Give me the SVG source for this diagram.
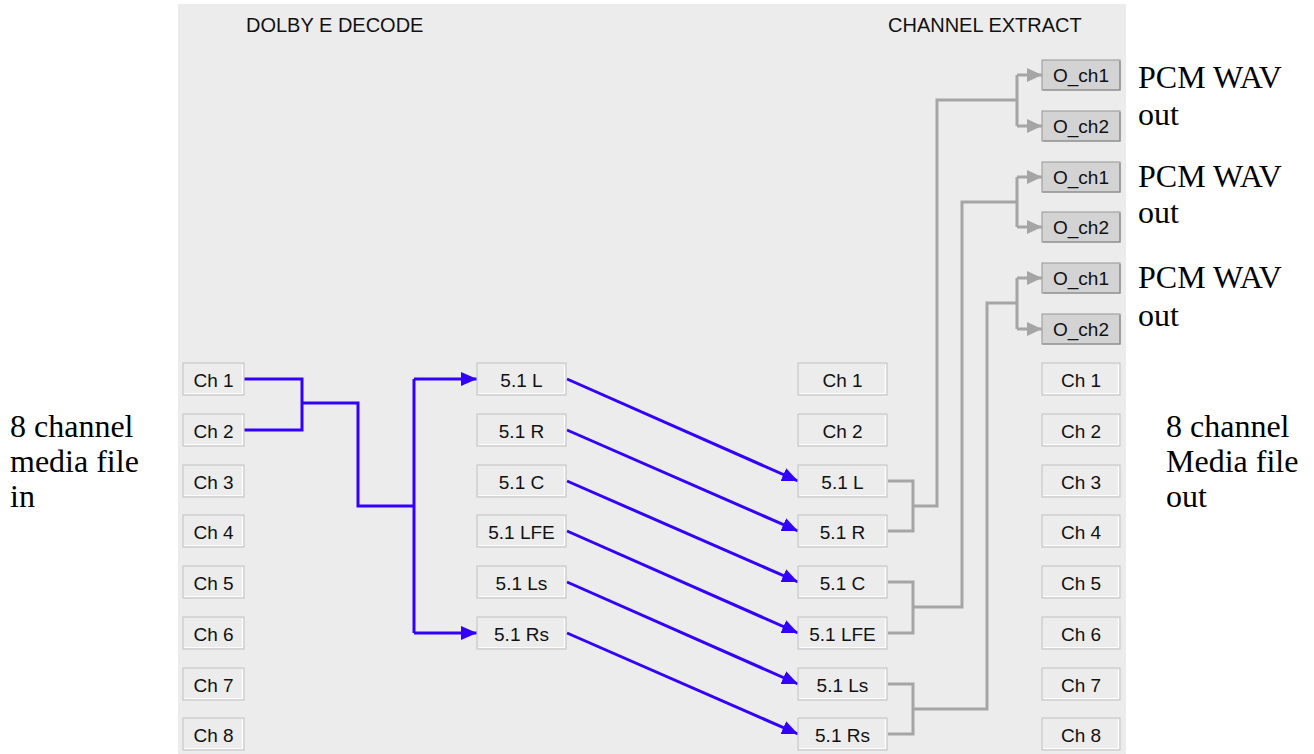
<svg xmlns="http://www.w3.org/2000/svg" width="1314" height="754" viewBox="0 0 1314 754">
<style>
.btn{fill:#ececec;stroke:#c9c9c9;stroke-width:1.2}
.hl{fill:none;stroke:#fdfdfd;stroke-width:1.2}
.obtn{fill:#d3d3d3;stroke:#a2a2a2;stroke-width:1.2}
.ohl{fill:none;stroke:#8c8c8c;stroke-width:1.2}
.bt{font-family:"Liberation Sans",Arial,sans-serif;font-size:19px;fill:#111;text-anchor:middle}
.hd{font-family:"Liberation Sans",Arial,sans-serif;font-size:20px;fill:#111}
.lbl{font-family:"Liberation Serif","Times New Roman",serif;font-size:32px;fill:#000}
.blue{fill:none;stroke:#3300ff;stroke-width:3}
.gray{fill:none;stroke:#a5a5a5;stroke-width:3}
</style>
<defs>
<marker id="ab" markerUnits="userSpaceOnUse" markerWidth="16" markerHeight="16" viewBox="0 0 16 16" refX="16" refY="8" orient="auto"><path d="M0,1 L16,8 L0,15 Z" fill="#3300ff"/></marker>
<marker id="ag" markerUnits="userSpaceOnUse" markerWidth="15" markerHeight="16" viewBox="0 0 15 16" refX="15" refY="8" orient="auto"><path d="M0,1 L15,8 L0,15 Z" fill="#a5a5a5"/></marker>
</defs>
<rect x="0" y="0" width="1314" height="754" fill="#ffffff"/>
<rect x="178" y="4" width="948" height="750" fill="#ececec"/>
<text class="hd" x="246" y="32">DOLBY E DECODE</text>
<text class="hd" x="888" y="32">CHANNEL EXTRACT</text>

<g id="connectors">
<path class="blue" d="M244,379 H302 V430 H244"/>
<path class="blue" d="M302,403 H358 V506 H414"/>
<path class="blue" d="M414,379 V633"/>
<path class="blue" d="M414,379 H477" marker-end="url(#ab)"/>
<path class="blue" d="M414,633 H477" marker-end="url(#ab)"/>
<path class="blue" d="M567,379 L798,481" marker-end="url(#ab)"/>
<path class="blue" d="M567,430 L798,531" marker-end="url(#ab)"/>
<path class="blue" d="M567,481 L798,582" marker-end="url(#ab)"/>
<path class="blue" d="M567,531 L798,633" marker-end="url(#ab)"/>
<path class="blue" d="M567,582 L798,684" marker-end="url(#ab)"/>
<path class="blue" d="M567,633 L798,734" marker-end="url(#ab)"/>
<path class="gray" d="M888,481 H913 V531 H888 M913,506 H937 V100 H1017"/>
<path class="gray" d="M1017,75 V126"/>
<path class="gray" d="M1017,75 H1042" marker-end="url(#ag)"/>
<path class="gray" d="M1017,126 H1042" marker-end="url(#ag)"/>
<path class="gray" d="M888,582 H913 V633 H888 M913,607 H962 V202 H1017"/>
<path class="gray" d="M1017,177 V227"/>
<path class="gray" d="M1017,177 H1042" marker-end="url(#ag)"/>
<path class="gray" d="M1017,227 H1042" marker-end="url(#ag)"/>
<path class="gray" d="M888,684 H913 V734 H888 M913,709 H987 V303 H1017"/>
<path class="gray" d="M1017,278 V329"/>
<path class="gray" d="M1017,278 H1042" marker-end="url(#ag)"/>
<path class="gray" d="M1017,329 H1042" marker-end="url(#ag)"/>
</g>

<!-- Column A -->
<g id="a1"><rect class="btn" x="183" y="363" width="61" height="32"/><path class="hl" d="M184.5,393.5 H242.5 V364.5"/><text class="bt" x="213.5" y="386.5">Ch 1</text></g>
<g id="a2"><rect class="btn" x="183" y="414" width="61" height="32"/><path class="hl" d="M184.5,444.5 H242.5 V415.5"/><text class="bt" x="213.5" y="437.5">Ch 2</text></g>
<g id="a3"><rect class="btn" x="183" y="465" width="61" height="32"/><path class="hl" d="M184.5,495.5 H242.5 V466.5"/><text class="bt" x="213.5" y="488.5">Ch 3</text></g>
<g id="a4"><rect class="btn" x="183" y="515" width="61" height="32"/><path class="hl" d="M184.5,545.5 H242.5 V516.5"/><text class="bt" x="213.5" y="538.5">Ch 4</text></g>
<g id="a5"><rect class="btn" x="183" y="566" width="61" height="32"/><path class="hl" d="M184.5,596.5 H242.5 V567.5"/><text class="bt" x="213.5" y="589.5">Ch 5</text></g>
<g id="a6"><rect class="btn" x="183" y="617" width="61" height="32"/><path class="hl" d="M184.5,647.5 H242.5 V618.5"/><text class="bt" x="213.5" y="640.5">Ch 6</text></g>
<g id="a7"><rect class="btn" x="183" y="668" width="61" height="32"/><path class="hl" d="M184.5,698.5 H242.5 V669.5"/><text class="bt" x="213.5" y="691.5">Ch 7</text></g>
<g id="a8"><rect class="btn" x="183" y="718" width="61" height="32"/><path class="hl" d="M184.5,748.5 H242.5 V719.5"/><text class="bt" x="213.5" y="741.5">Ch 8</text></g>

<!-- Column B -->
<g id="b1"><rect class="btn" x="477" y="363" width="89" height="32"/><path class="hl" d="M478.5,393.5 H564.5 V364.5"/><text class="bt" x="521.5" y="386.5">5.1 L</text></g>
<g id="b2"><rect class="btn" x="477" y="414" width="89" height="32"/><path class="hl" d="M478.5,444.5 H564.5 V415.5"/><text class="bt" x="521.5" y="437.5">5.1 R</text></g>
<g id="b3"><rect class="btn" x="477" y="465" width="89" height="32"/><path class="hl" d="M478.5,495.5 H564.5 V466.5"/><text class="bt" x="521.5" y="488.5">5.1 C</text></g>
<g id="b4"><rect class="btn" x="477" y="515" width="89" height="32"/><path class="hl" d="M478.5,545.5 H564.5 V516.5"/><text class="bt" x="521.5" y="538.5">5.1 LFE</text></g>
<g id="b5"><rect class="btn" x="477" y="566" width="89" height="32"/><path class="hl" d="M478.5,596.5 H564.5 V567.5"/><text class="bt" x="521.5" y="589.5">5.1 Ls</text></g>
<g id="b6"><rect class="btn" x="477" y="617" width="89" height="32"/><path class="hl" d="M478.5,647.5 H564.5 V618.5"/><text class="bt" x="521.5" y="640.5">5.1 Rs</text></g>

<!-- Column C -->
<g id="c1"><rect class="btn" x="798" y="363" width="89" height="32"/><path class="hl" d="M799.5,393.5 H885.5 V364.5"/><text class="bt" x="842.5" y="386.5">Ch 1</text></g>
<g id="c2"><rect class="btn" x="798" y="414" width="89" height="32"/><path class="hl" d="M799.5,444.5 H885.5 V415.5"/><text class="bt" x="842.5" y="437.5">Ch 2</text></g>
<g id="c3"><rect class="btn" x="798" y="465" width="89" height="32"/><path class="hl" d="M799.5,495.5 H885.5 V466.5"/><text class="bt" x="842.5" y="488.5">5.1 L</text></g>
<g id="c4"><rect class="btn" x="798" y="515" width="89" height="32"/><path class="hl" d="M799.5,545.5 H885.5 V516.5"/><text class="bt" x="842.5" y="538.5">5.1 R</text></g>
<g id="c5"><rect class="btn" x="798" y="566" width="89" height="32"/><path class="hl" d="M799.5,596.5 H885.5 V567.5"/><text class="bt" x="842.5" y="589.5">5.1 C</text></g>
<g id="c6"><rect class="btn" x="798" y="617" width="89" height="32"/><path class="hl" d="M799.5,647.5 H885.5 V618.5"/><text class="bt" x="842.5" y="640.5">5.1 LFE</text></g>
<g id="c7"><rect class="btn" x="798" y="668" width="89" height="32"/><path class="hl" d="M799.5,698.5 H885.5 V669.5"/><text class="bt" x="842.5" y="691.5">5.1 Ls</text></g>
<g id="c8"><rect class="btn" x="798" y="718" width="89" height="32"/><path class="hl" d="M799.5,748.5 H885.5 V719.5"/><text class="bt" x="842.5" y="741.5">5.1 Rs</text></g>

<!-- Column D -->
<g id="d1"><rect class="btn" x="1042" y="363" width="78" height="32"/><path class="hl" d="M1043.5,393.5 H1118.5 V364.5"/><text class="bt" x="1081" y="386.5">Ch 1</text></g>
<g id="d2"><rect class="btn" x="1042" y="414" width="78" height="32"/><path class="hl" d="M1043.5,444.5 H1118.5 V415.5"/><text class="bt" x="1081" y="437.5">Ch 2</text></g>
<g id="d3"><rect class="btn" x="1042" y="465" width="78" height="32"/><path class="hl" d="M1043.5,495.5 H1118.5 V466.5"/><text class="bt" x="1081" y="488.5">Ch 3</text></g>
<g id="d4"><rect class="btn" x="1042" y="515" width="78" height="32"/><path class="hl" d="M1043.5,545.5 H1118.5 V516.5"/><text class="bt" x="1081" y="538.5">Ch 4</text></g>
<g id="d5"><rect class="btn" x="1042" y="566" width="78" height="32"/><path class="hl" d="M1043.5,596.5 H1118.5 V567.5"/><text class="bt" x="1081" y="589.5">Ch 5</text></g>
<g id="d6"><rect class="btn" x="1042" y="617" width="78" height="32"/><path class="hl" d="M1043.5,647.5 H1118.5 V618.5"/><text class="bt" x="1081" y="640.5">Ch 6</text></g>
<g id="d7"><rect class="btn" x="1042" y="668" width="78" height="32"/><path class="hl" d="M1043.5,698.5 H1118.5 V669.5"/><text class="bt" x="1081" y="691.5">Ch 7</text></g>
<g id="d8"><rect class="btn" x="1042" y="718" width="78" height="32"/><path class="hl" d="M1043.5,748.5 H1118.5 V719.5"/><text class="bt" x="1081" y="741.5">Ch 8</text></g>

<!-- Outputs -->
<g id="o1"><rect class="obtn" x="1042" y="60" width="78" height="30"/><path class="ohl" d="M1043,90 H1120 V61"/><text class="bt" x="1081" y="82">O_ch1</text></g>
<g id="o2"><rect class="obtn" x="1042" y="111" width="78" height="30"/><path class="ohl" d="M1043,141 H1120 V112"/><text class="bt" x="1081" y="133">O_ch2</text></g>
<g id="o3"><rect class="obtn" x="1042" y="162" width="78" height="30"/><path class="ohl" d="M1043,192 H1120 V163"/><text class="bt" x="1081" y="184">O_ch1</text></g>
<g id="o4"><rect class="obtn" x="1042" y="212" width="78" height="30"/><path class="ohl" d="M1043,242 H1120 V213"/><text class="bt" x="1081" y="234">O_ch2</text></g>
<g id="o5"><rect class="obtn" x="1042" y="263" width="78" height="30"/><path class="ohl" d="M1043,293 H1120 V264"/><text class="bt" x="1081" y="285">O_ch1</text></g>
<g id="o6"><rect class="obtn" x="1042" y="314" width="78" height="30"/><path class="ohl" d="M1043,344 H1120 V315"/><text class="bt" x="1081" y="336">O_ch2</text></g>

<!-- Side labels -->
<g id="in-label"><text class="lbl" x="10" y="437">8 channel</text><text class="lbl" x="10" y="472">media file</text><text class="lbl" x="10" y="507">in</text></g>
<g id="out-label"><text class="lbl" x="1166" y="437">8 channel</text><text class="lbl" x="1166" y="472">Media file</text><text class="lbl" x="1166" y="507">out</text></g>
<g id="pcm1"><text class="lbl" x="1138" y="88">PCM WAV</text><text class="lbl" x="1138" y="125">out</text></g>
<g id="pcm2"><text class="lbl" x="1138" y="187">PCM WAV</text><text class="lbl" x="1138" y="223">out</text></g>
<g id="pcm3"><text class="lbl" x="1138" y="288">PCM WAV</text><text class="lbl" x="1138" y="326">out</text></g>
</svg>
